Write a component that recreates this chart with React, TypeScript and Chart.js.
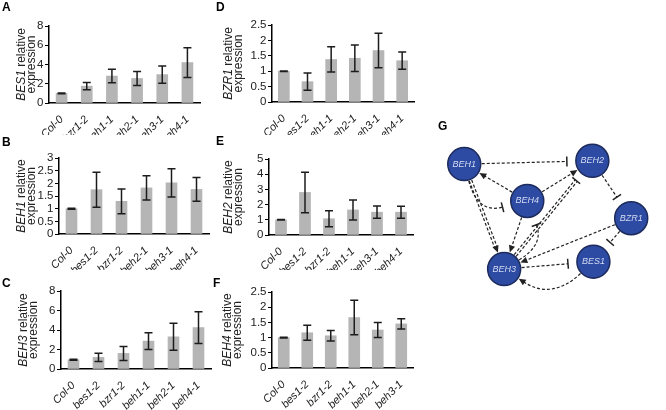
import { useEffect, useRef } from "react";
import { Chart, registerables } from "chart.js";
Chart.register(...registerables);

const FONT = 'Arial, "Liberation Sans", Helvetica, sans-serif';
const BAR_COLOR = "#b5b5b5";
const INK = "#1c1c1c";

// ---- Panel A: BES1 ----
const catsA = ["Col-0", "bzr1-2", "beh1-1", "beh2-1", "beh3-1", "beh4-1"];
const valsA = [1.0, 1.75, 2.8, 2.55, 2.95, 4.2];
const errsA = [0.04, 0.38, 0.7, 0.72, 0.9, 1.55];
const ticksA = [0, 2, 4, 6, 8];

// ---- Panel B: BEH1 ----
const catsB = ["Col-0", "bes1-2", "bzr1-2", "beh2-1", "beh3-1", "beh4-1"];
const valsB = [1.0, 1.75, 1.29, 1.82, 2.02, 1.76];
const errsB = [0.02, 0.69, 0.49, 0.48, 0.56, 0.47];
const ticksB = [0, 0.5, 1, 1.5, 2, 2.5, 3];

// ---- Panel C: BEH3 ----
const catsC = ["Col-0", "bes1-2", "bzr1-2", "beh1-1", "beh2-1", "beh4-1"];
const valsC = [0.95, 1.19, 1.6, 2.86, 3.3, 4.25];
const errsC = [0.04, 0.42, 0.72, 0.85, 1.38, 1.63];
const ticksC = [0, 2, 4, 6, 8];

// ---- Panel D: BZR1 ----
const catsD = ["Col-0", "bes1-2", "beh1-1", "beh2-1", "beh3-1", "beh4-1"];
const valsD = [1.0, 0.66, 1.38, 1.42, 1.67, 1.34];
const errsD = [0.01, 0.28, 0.41, 0.43, 0.56, 0.28];
const ticksD = [0, 0.5, 1, 1.5, 2, 2.5];

// ---- Panel E: BEH2 ----
const catsE = ["Col-0", "bes1-2", "bzr1-2", "beh1-1", "beh3-1", "beh4-1"];
const valsE = [1.0, 2.8, 1.07, 1.65, 1.5, 1.5];
const errsE = [0.02, 1.33, 0.53, 0.66, 0.4, 0.39];
const ticksE = [0, 1, 2, 3, 4, 5];

// ---- Panel F: BEH4 ----
const catsF = ["Col-0", "bes1-2", "bzr1-2", "beh1-1", "beh2-1", "beh3-1"];
const valsF = [1.0, 1.16, 1.06, 1.66, 1.25, 1.45];
const errsF = [0.01, 0.25, 0.17, 0.57, 0.25, 0.17];
const ticksF = [0, 0.5, 1, 1.5, 2, 2.5];

// ---- Panel G: network ----
const nodeNames = ["BEH1", "BEH2", "BEH4", "BZR1", "BES1", "BEH3"];
const nodeX = [12.5, 73.5, 42.5, 92, 74, 31.5];
const nodeY = [22, 20, 44.5, 55, 81.5, 86];
const edgeFrom = [0, 2, 0, 2, 0, 2, 5, 5, 1, 3, 3, 5, 4];
const edgeTo = [1, 0, 2, 1, 5, 5, 2, 1, 3, 5, 4, 4, 5];
const edgeKind = ["bar", "arrow", "bar", "arrow", "arrow", "arrow", "bar", "bar", "bar", "arrow", "bar", "bar", "arrow"];
const edgeBend = [0, 0, 36, 0, 0, 0, 30, 0, 0, 0, 0, 0, -35];
const edgeDouble = [false, false, false, false, true, false, false, true, false, false, false, false, false];

type Panel = {
  letter: string;
  gene: string;
  cats: string[];
  vals: number[];
  errs: number[];
  ticks: number[];
  box: number[]; // canvas x, y, w, h
  plot: number[]; // left, right, topY, zeroY
  titleX: number;
  letterPos: number[];
};

const panels: Panel[] = [
  { letter: "A", gene: "BES1", cats: catsA, vals: valsA, errs: errsA, ticks: ticksA, box: [0, 0, 212, 135], plot: [49, 200, 26, 103], titleX: 25, letterPos: [2, 1] },
  { letter: "B", gene: "BEH1", cats: catsB, vals: valsB, errs: errsB, ticks: ticksB, box: [0, 135, 212, 135], plot: [59, 209, 158, 234], titleX: 25, letterPos: [2, 136] },
  { letter: "C", gene: "BEH3", cats: catsC, vals: valsC, errs: errsC, ticks: ticksC, box: [0, 270, 212, 140], plot: [61, 211, 291, 369], titleX: 27, letterPos: [2, 277] },
  { letter: "D", gene: "BZR1", cats: catsD, vals: valsD, errs: errsD, ticks: ticksD, box: [212, 0, 212, 135], plot: [272, 414, 25, 102], titleX: 232, letterPos: [216, 1] },
  { letter: "E", gene: "BEH2", cats: catsE, vals: valsE, errs: errsE, ticks: ticksE, box: [212, 135, 212, 135], plot: [269, 413, 159, 235], titleX: 232, letterPos: [216, 135] },
  { letter: "F", gene: "BEH4", cats: catsF, vals: valsF, errs: errsF, ticks: ticksF, box: [212, 270, 212, 140], plot: [272, 413, 292, 368], titleX: 231, letterPos: [213, 277] },
];

function BarPanel({ p }: { p: Panel }) {
  const ref = useRef<HTMLCanvasElement>(null);
  useEffect(() => {
    const [cx, cy, cw, ch] = p.box;
    const [pl, pr, pt, pb] = p.plot;
    const errPlugin = {
      id: "errbars",
      afterDatasetsDraw(chart: any) {
        const ctx = chart.ctx;
        const ys = chart.scales.y;
        const meta = chart.getDatasetMeta(0);
        ctx.save();
        ctx.strokeStyle = INK;
        ctx.lineWidth = 1.5;
        meta.data.forEach((bar: any, i: number) => {
          const v = p.vals[i];
          const e = p.errs[i];
          const x = bar.x;
          const yt = ys.getPixelForValue(v + e);
          const yb = ys.getPixelForValue(v - e);
          ctx.beginPath();
          ctx.moveTo(x, yt);
          ctx.lineTo(x, yb);
          ctx.moveTo(x - 4, yt);
          ctx.lineTo(x + 4, yt);
          ctx.moveTo(x - 4, yb);
          ctx.lineTo(x + 4, yb);
          ctx.stroke();
        });
        ctx.restore();
      },
    };
    const titlePlugin = {
      id: "ytitle",
      afterDraw(chart: any) {
        const ctx = chart.ctx;
        const area = chart.chartArea;
        const midY = (area.top + area.bottom) / 2;
        const x1 = p.titleX - cx;
        ctx.save();
        ctx.fillStyle = "#222";
        ctx.textBaseline = "alphabetic";
        ctx.translate(x1, midY);
        ctx.rotate(-Math.PI / 2);
        const fItal = `italic 12px ${FONT}`;
        const fNorm = `12px ${FONT}`;
        ctx.font = fItal;
        const w1 = ctx.measureText(p.gene).width;
        ctx.font = fNorm;
        const w2 = ctx.measureText(" relative").width;
        const total = w1 + w2;
        ctx.font = fItal;
        ctx.textAlign = "left";
        ctx.fillText(p.gene, -total / 2, 0);
        ctx.font = fNorm;
        ctx.fillText(" relative", -total / 2 + w1, 0);
        ctx.textAlign = "center";
        ctx.fillText("expression", 0, 9.5);
        ctx.restore();
      },
    };
    const chart = new Chart(ref.current as HTMLCanvasElement, {
      type: "bar",
      data: {
        labels: p.cats,
        datasets: [{ data: p.vals, backgroundColor: BAR_COLOR, barThickness: 11 }],
      },
      options: {
        responsive: false,
        animation: false,
        devicePixelRatio: 1,
        layout: { padding: { top: pt - cy, right: cx + cw - pr, left: 0, bottom: 0 } },
        plugins: { legend: { display: false }, tooltip: { enabled: false } },
        scales: {
          x: {
            grid: { display: false },
            border: { display: true, color: "#000", width: 1.5 },
            ticks: {
              font: { family: FONT, size: 11, style: "italic" },
              color: "#222",
              maxRotation: 45,
              minRotation: 45,
              padding: 2,
              autoSkip: false,
            },
            afterFit: (s: any) => {
              s.height = cy + ch - pb;
            },
          },
          y: {
            min: p.ticks[0],
            max: p.ticks[p.ticks.length - 1],
            border: { display: true, color: "#000", width: 1.5 },
            grid: { drawOnChartArea: false, drawTicks: true, tickLength: 4, color: "#000", lineWidth: 1 },
            ticks: {
              font: { family: FONT, size: 11.5 },
              color: "#222",
              padding: 1.5,
              autoSkip: false,
              callback: (v: any) => String(v),
            },
            afterBuildTicks: (s: any) => {
              s.ticks = p.ticks.map((v) => ({ value: v }));
            },
            afterFit: (s: any) => {
              s.width = pl - cx;
            },
          },
        },
      } as any,
      plugins: [errPlugin, titlePlugin],
    });
    return () => chart.destroy();
  }, [p]);
  const [cx, cy, cw, ch] = p.box;
  return (
    <canvas
      ref={ref}
      width={cw}
      height={ch}
      style={{ position: "absolute", left: cx, top: cy, width: cw, height: ch }}
    />
  );
}

const NODE_R = 16.5;
const netBox = [420, 110, 246, 200];

function Network() {
  const ref = useRef<HTMLCanvasElement>(null);
  useEffect(() => {
    const edgePlugin = {
      id: "edges",
      beforeDatasetsDraw(chart: any) {
        const ctx = chart.ctx;
        const xs = chart.scales.x;
        const ys = chart.scales.y;
        ctx.save();
        ctx.strokeStyle = "#222";
        ctx.fillStyle = "#222";
        for (let i = 0; i < edgeFrom.length; i++) {
          const a = { x: xs.getPixelForValue(nodeX[edgeFrom[i]]), y: ys.getPixelForValue(nodeY[edgeFrom[i]]) };
          const b = { x: xs.getPixelForValue(nodeX[edgeTo[i]]), y: ys.getPixelForValue(nodeY[edgeTo[i]]) };
          const kind = edgeKind[i];
          const bend = edgeBend[i];
          const dx = b.x - a.x;
          const dy = b.y - a.y;
          const len = Math.hypot(dx, dy);
          const px = -dy / len;
          const py = dx / len;
          const c = { x: (a.x + b.x) / 2 + px * bend, y: (a.y + b.y) / 2 + py * bend };
          let sx = dx / len, sy = dy / len, ex = dx / len, ey = dy / len;
          if (bend !== 0) {
            const l1 = Math.hypot(c.x - a.x, c.y - a.y);
            sx = (c.x - a.x) / l1; sy = (c.y - a.y) / l1;
            const l2 = Math.hypot(b.x - c.x, b.y - c.y);
            ex = (b.x - c.x) / l2; ey = (b.y - c.y) / l2;
          }
          const gap = kind === "bar" ? 9 : 1;
          const start = { x: a.x + sx * (NODE_R + 1), y: a.y + sy * (NODE_R + 1) };
          const end = { x: b.x - ex * (NODE_R + gap), y: b.y - ey * (NODE_R + gap) };
          const back = kind === "arrow" ? 6 : 0;
          const lineEnd = { x: end.x - ex * back, y: end.y - ey * back };
          const offs = edgeDouble[i] ? [-1.3, 1.3] : [0];
          ctx.setLineDash([3, 2]);
          ctx.lineWidth = 1.2;
          for (const o of offs) {
            ctx.beginPath();
            ctx.moveTo(start.x + px * o, start.y + py * o);
            if (bend !== 0) {
              ctx.quadraticCurveTo(c.x, c.y, lineEnd.x, lineEnd.y);
            } else {
              ctx.lineTo(lineEnd.x + px * o, lineEnd.y + py * o);
            }
            ctx.stroke();
          }
          ctx.setLineDash([]);
          const nx = -ey, ny = ex;
          if (kind === "arrow") {
            ctx.beginPath();
            ctx.moveTo(end.x, end.y);
            ctx.lineTo(end.x - ex * 7 + nx * 3.2, end.y - ey * 7 + ny * 3.2);
            ctx.lineTo(end.x - ex * 7 - nx * 3.2, end.y - ey * 7 - ny * 3.2);
            ctx.closePath();
            ctx.fill();
          } else {
            ctx.lineWidth = 1.5;
            ctx.beginPath();
            ctx.moveTo(end.x + nx * 5, end.y + ny * 5);
            ctx.lineTo(end.x - nx * 5, end.y - ny * 5);
            ctx.stroke();
          }
        }
        ctx.restore();
      },
      afterDatasetsDraw(chart: any) {
        const ctx = chart.ctx;
        const meta = chart.getDatasetMeta(0);
        ctx.save();
        ctx.font = `italic 9px ${FONT}`;
        ctx.fillStyle = "#d4dbf2";
        ctx.textAlign = "center";
        ctx.textBaseline = "middle";
        meta.data.forEach((pt: any, i: number) => {
          ctx.fillText(nodeNames[i], pt.x, pt.y);
        });
        ctx.restore();
      },
    };
    const chart = new Chart(ref.current as HTMLCanvasElement, {
      type: "scatter",
      data: {
        datasets: [
          {
            data: nodeX.map((x, i) => ({ x, y: nodeY[i] })),
            pointRadius: NODE_R,
            backgroundColor: "#2d4ba3",
            borderColor: "#1d2b5c",
            borderWidth: 1.5,
            clip: false,
          } as any,
        ],
      },
      options: {
        responsive: false,
        animation: false,
        devicePixelRatio: 1,
        layout: { padding: 0 },
        plugins: { legend: { display: false }, tooltip: { enabled: false } },
        scales: {
          x: { type: "linear", min: 0, max: 100, display: false },
          y: { type: "linear", min: 0, max: 100, reverse: true, display: false },
        },
      } as any,
      plugins: [edgePlugin],
    });
    return () => chart.destroy();
  }, []);
  const [x, y, w, h] = netBox;
  return <canvas ref={ref} width={w} height={h} style={{ position: "absolute", left: x, top: y, width: w, height: h }} />;
}

const letterStyle = (x: number, y: number): any => ({
  position: "absolute",
  left: x,
  top: y,
  font: `bold 12px ${FONT}`,
  lineHeight: "12px",
  color: "#000",
});

export default function App() {
  return (
    <div style={{ position: "fixed", left: 0, top: 0, width: 666, height: 410, background: "#fff", overflow: "hidden" }}>
      {panels.map((p) => (
        <BarPanel key={p.letter} p={p} />
      ))}
      <Network />
      {panels.map((p) => (
        <div key={"L" + p.letter} style={letterStyle(p.letterPos[0], p.letterPos[1])}>
          {p.letter}
        </div>
      ))}
      <div style={letterStyle(438, 120)}>G</div>
    </div>
  );
}
